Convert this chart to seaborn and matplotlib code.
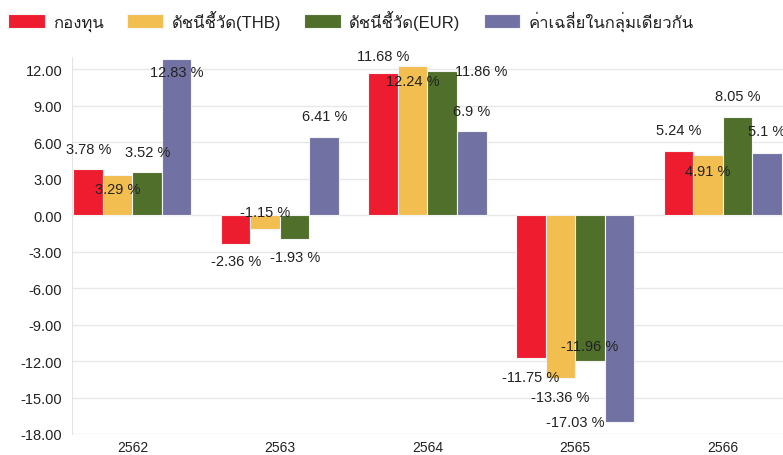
import pandas as pd
import matplotlib
matplotlib.use("Agg")
import matplotlib.pyplot as plt
from matplotlib import font_manager
from matplotlib.ft2font import FT2Font
import seaborn as sns

# data
years = ["2562", "2563", "2564", "2565", "2566"]
series = ["กองทุน", "ดัชนีชี้วัด(THB)", "ดัชนีชี้วัด(EUR)", "ค่าเฉลี่ยในกลุ่มเดียวกัน"]
fund = [3.78, -2.36, 11.68, -11.75, 5.24]
bench_thb = [3.29, -1.15, 12.24, -13.36, 4.91]
bench_eur = [3.52, -1.93, 11.86, -11.96, 8.05]
peer_avg = [12.83, 6.41, 6.9, -17.03, 5.1]

colors = ["#EE1C2F", "#F2BE4F", "#4F6F2B", "#7172A3"]

# label offsets in pixels (dx, dy) per series, per year
label_dx = [[0, 0, 0, 0, 0], [0, 0, 0, 0, 0], [0, 0, 39, 0, 0], [0, 0, 0, -44, 0]]
label_dy = [[20, -17, 17, -19, 21], [-14, 17, -15, -19, -16],
            [20, -18, 0, 15, 21], [-13, 21, 20, 0, 22]]

# find a font that can draw Thai
thai_fonts = set()
for f in font_manager.fontManager.ttflist:
    try:
        if 0x0E01 in FT2Font(f.fname).get_charmap():
            thai_fonts.add(f.name)
    except Exception:
        pass
thai = sorted(thai_fonts)[0]
for name in ["Loma", "Tahoma", "Noto Sans Thai", "Sarabun", "Garuda", "Kanit"]:
    if name in thai_fonts:
        thai = name
        break

df = pd.DataFrame({
    "year": years * 4,
    "series": [s for s in series for _ in years],
    "value": fund + bench_thb + bench_eur + peer_avg,
})

sns.set_style("white")
plt.rcParams["font.family"] = ["Liberation Sans", thai, "DejaVu Sans"]

fig = plt.figure(figsize=(7.83, 4.56), dpi=100)
ax = fig.add_axes([72 / 783, 1 - 435 / 456, (783 - 72) / 783, (435 - 58) / 456])

sns.barplot(data=df, x="year", y="value", hue="series", hue_order=series,
            palette=colors, saturation=1, width=0.8, edgecolor="#f4f4f4",
            linewidth=0.8, ax=ax, legend=True)

for i, cont in enumerate(ax.containers):
    vals = df[df.series == series[i]]["value"].tolist()
    for j, bar in enumerate(cont):
        val = vals[j]
        ax.annotate(f"{val:g} %", (bar.get_x() + bar.get_width() / 2, val),
                    xytext=(label_dx[i][j], label_dy[i][j]), textcoords="offset pixels",
                    ha="center", va="center", fontsize=10.5, color="#222222")

ax.set_xlim(-0.41, 4.41)
ax.set_ylim(-18, 13.0)
ax.set_yticks(range(-18, 13, 3))
ax.set_yticklabels([f"{t:.2f}" for t in range(-18, 13, 3)])
ax.yaxis.grid(True, color="#e8e8e8", linewidth=1)
ax.set_axisbelow(True)
for s in ["top", "right", "bottom"]:
    ax.spines[s].set_visible(False)
ax.spines["left"].set_color("#e4e4e4")
ax.tick_params(axis="y", direction="out", length=5, width=1,
               color="#333333", labelsize=10.5, labelcolor="#222222", pad=2)
ax.tick_params(axis="x", direction="out", length=4.5, width=1,
               color="#333333", labelsize=10, labelcolor="#222222", pad=0)
ax.set_xlabel("")
ax.set_ylabel("")

handles, labels = ax.get_legend_handles_labels()
ax.legend_.remove()
fig.legend(handles, labels, loc="upper left", bbox_to_anchor=(8 / 783, 1 - 11 / 456),
           ncol=4, frameon=False, fontsize=12, handlelength=2.2, handleheight=0.9,
           handletextpad=0.48, columnspacing=1.4, borderaxespad=0, borderpad=0,
           labelcolor="#222222")

fig.savefig("out.png", dpi=100)
